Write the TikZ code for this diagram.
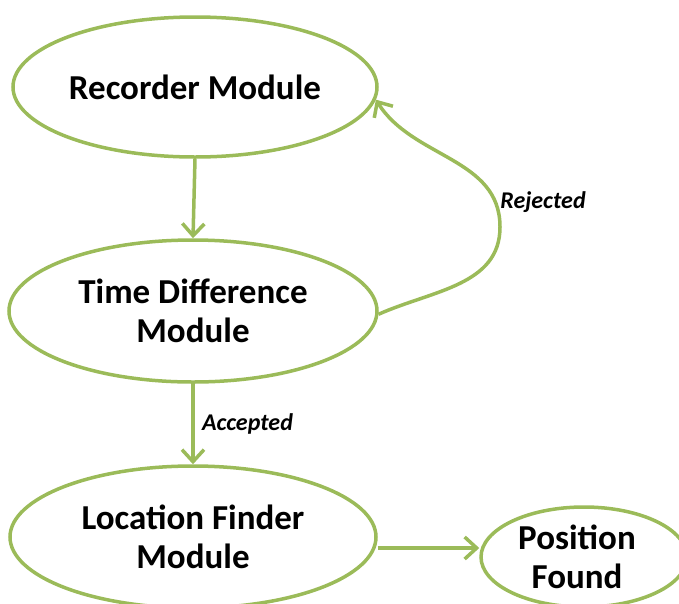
\documentclass[tikz,border=0pt]{standalone}
\usepackage{fontspec}
\setmainfont{Carlito}
\usetikzlibrary{shapes.geometric,arrows.meta}
\definecolor{olive}{RGB}{155,187,89}
\tikzset{
  module/.style={ellipse, draw=olive, line width=3.5pt, align=center,
    font=\fontsize{35}{39}\selectfont\bfseries, inner sep=0pt},
  flow/.style={draw=olive, line width=3.5pt,
    -{Straight Barb[length=12pt,width=22pt,line width=3.5pt]}},
  lbl/.style={font=\fontsize{24}{26}\selectfont\bfseries\itshape}
}
\begin{document}
\begin{tikzpicture}[x=1pt,y=-1pt]
\useasboundingbox (0,0) rectangle (679,603);
\clip (0,0) rectangle (679,603);
\node[module, minimum width=364pt, minimum height=140pt] (rec) at (195,87) {Recorder Module};
\node[module, minimum width=368pt, minimum height=142pt] (td) at (193,311) {Time Difference\\Module};
\node[module, minimum width=366pt, minimum height=142pt] (loc) at (193,537) {Location Finder\\Module};
\node[module, minimum width=206pt, minimum height=100pt] (pos) at (584,557) {\hspace*{-14pt}Position\\\hspace*{-14pt}Found};
\coordinate (bend) at (500,227);
\draw[flow] (rec.south) -- (td.north);
\draw[flow] (td.south) -- (loc.north) node[midway, right=4pt, lbl, text=black] {Accepted};
\draw[flow] (loc.east |- 0,548) -- (pos.west |- 0,548);
\draw[flow] (td.-1) to[out=24, in=-90] (bend) to[out=90, in=-58] (rec.-4);
\node[lbl] (rej) at (543,202) {Rejected};
\end{tikzpicture}
\end{document}
